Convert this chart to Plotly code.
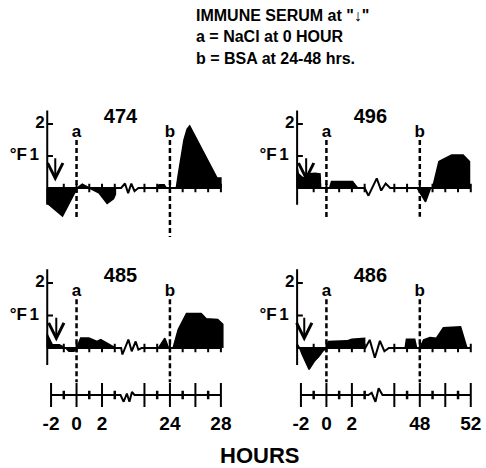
import plotly.graph_objects as go

W, H = 486, 468

# ---------------- data ----------------
# Hour axis is broken: left column shows -2..3 h and 22..28 h,
# right column shows -2..3 h and 46..52 h.
LEFT_CUT = 16.67     # hours hidden by the break, left column
RIGHT_CUT = 40.67    # hours hidden by the break, right column

# fever response (deg F) of each animal, before and after the axis break
p474_pre_h = [-2.3, -2.3, -1.1, 0.05, 0.45, 0.8, 1.0, 1.75, 2.4, 2.9, 3.05, 3.05, 3.5]
p474_pre_f = [0, -0.47, -0.88, 0, 0.12, 0.03, 0, -0.15, -0.48, -0.34, -0.2, 0, 0]
p474_post_h = [21.6, 23.0, 23.15, 23.55, 23.7, 24.5, 24.65, 24.85, 25.1, 25.35, 25.55, 27.7, 28.0, 28.0]
p474_post_f = [0, 0, 0.1, 0.1, 0, 0, 0.4, 0.94, 1.5, 1.84, 1.94, 0.31, 0.31, 0]
p474_brk_h = [3.5, 3.8, 4.05, 4.3, 4.55, 4.85]
p474_brk_f = [0, 0.14, -0.16, 0.14, -0.1, 0]

p496_pre_h = [-2.3, -2.3, -2.2, -1.8, -1.55, -0.9, -0.5, -0.45, 0.25, 0.4, 2.05, 2.45, 3.0]
p496_pre_f = [0, 0.65, 0.44, 0.3, 0.44, 0.46, 0.44, 0, 0, 0.2, 0.2, 0, 0]
p496_post_h = [45.7, 47.8, 48.45, 48.85, 49.0, 49.5, 50.5, 51.4, 51.9, 51.9]
p496_post_f = [0, 0, -0.43, 0, 0, 0.83, 1.03, 1.03, 0.83, 0]
p496_brk_h = [3.0, 3.3, 3.95, 4.3, 4.65, 5.0]
p496_brk_f = [0, -0.24, 0.3, -0.08, 0.14, 0]

p485_pre_h = [-2.3, -2.3, -2.1, -1.9, -1.35, -0.85, -0.6, -0.2, 0, 0.33, 0.97, 1.6, 1.9, 2.5, 3.05, 3.5]
p485_pre_f = [0, 0.42, 0.26, 0.1, 0.1, 0, -0.1, -0.1, 0, 0.31, 0.31, 0.2, 0.26, 0.13, 0, 0]
p485_post_h = [21.8, 23.1, 23.6, 23.9, 24.25, 24.65, 25.3, 26.45, 26.85, 27.75, 28.15, 28.15]
p485_post_f = [0, 0, 0.3, 0, 0, 0.57, 1.06, 1.06, 0.9, 0.88, 0.73, 0]
p485_brk_h = [3.5, 3.6, 4.07, 4.33, 4.64, 4.85, 5.1]
p485_brk_f = [0, -0.2, 0.26, -0.1, 0.2, -0.05, 0]

p486_pre_h = [-2.3, -2.3, -2.1, -1.9, -1.36, -0.95, -0.6, -0.3, 0, 0.15, 1.6, 2.0, 3.0, 3.0]
p486_pre_f = [0, 0.12, 0, -0.2, -0.66, -0.41, -0.26, -0.1, 0, 0.2, 0.22, 0.27, 0.3, 0]
p486_post_h = [45.7, 46.85, 46.95, 47.6, 47.75, 48.0, 48.3, 48.8, 49.3, 49.85, 51.2, 51.7, 52.0]
p486_post_f = [0, 0, 0.27, 0.27, 0, 0, 0.25, 0.32, 0.3, 0.62, 0.65, 0, 0]
p486_brk_h = [3.05, 3.4, 3.8, 4.2, 4.55, 4.9]
p486_brk_f = [0, 0.25, -0.3, 0.22, -0.1, 0]

# injection times
serum_h = {"474": -1.67, "496": -1.59, "485": -1.59, "486": -1.74}
nacl_h = 0
bsa_h = {"left": 24, "right": 48}

# temperature-axis ticks
f_ticks = [1, 2]

# hour-axis ticks
left_major = [-2, 0, 2, 22, 24, 26, 28]
left_minor = [-1, 1, 3, 23, 25, 27]
left_labels = {-2: "-2", 0: "0", 2: "2", 24: "24", 28: "28"}
right_major = [-2, 0, 2, 46, 48, 50, 52]
right_minor = [-1, 1, 3, 47, 49, 51]
right_labels = {-2: "-2", 0: "0", 2: "2", 48: "48", 52: "52"}
left_axbrk_h = [3.45, 3.7, 3.95, 4.15, 4.35, 4.55]
left_axbrk_v = [0, -0.45, 0.1, -0.45, 0.2, 0]
right_axbrk_h = [3.3, 3.55, 3.85, 4.1, 4.4]
right_axbrk_v = [0, 0.15, -0.45, 0.45, 0]

FONT = "Liberation Sans"
INK = "black"

# ---------------- geometry ----------------
COLS = {"left": dict(origin=77.5, cut=LEFT_CUT, end=28),
        "right": dict(origin=330.5, cut=RIGHT_CUT, end=52)}
UPX = 12.9                 # px per hour
XR = [-4.5, 11.7]
ROWS = {0: dict(base=188, scale=32.0), 1: dict(base=348, scale=32.5)}
YR = [-1.7, 2.6]


def disp(h, cut):
    return [v if v < 10 else v - cut for v in h] if isinstance(h, list) else (h if h < 10 else h - cut)


def xdom(col):
    o = COLS[col]["origin"]
    return [(o + XR[0] * UPX) / W, (o + XR[1] * UPX) / W]


def ydom(row):
    b, s = ROWS[row]["base"], ROWS[row]["scale"]
    top = b - YR[1] * s
    bot = b - YR[0] * s
    return [1 - bot / H, 1 - top / H]


fig = go.Figure()
layout = dict(width=W, height=H, margin=dict(l=0, r=0, t=0, b=0),
              paper_bgcolor="white", plot_bgcolor="rgba(0,0,0,0)",
              showlegend=False, annotations=[])
ann = layout["annotations"]


def hidden_axis(**kw):
    d = dict(showgrid=False, zeroline=False, showline=False, showticklabels=False,
             ticks="", fixedrange=True)
    d.update(kw)
    return d


panels = [
    ("474", "left", 0, (p474_pre_h, p474_pre_f), (p474_post_h, p474_post_f), (p474_brk_h, p474_brk_f), (-1.0, -1.53)),
    ("496", "right", 0, (p496_pre_h, p496_pre_f), (p496_post_h, p496_post_f), (p496_brk_h, p496_brk_f), (-1.0, -0.9)),
    ("485", "left", 1, (p485_pre_h, p485_pre_f), (p485_post_h, p485_post_f), (p485_brk_h, p485_brk_f), (-1.05, -1.05)),
    ("486", "right", 1, (p486_pre_h, p486_pre_f), (p486_post_h, p486_post_f), (p486_brk_h, p486_brk_f), (-1.05, -1.05)),
]

YAX = -2.3   # position of the temperature axis (hours)
BOLD = dict(family=FONT, color=INK, weight="bold")


def seg(xs, ys, xr, yr, width=2, dash=None):
    fig.add_trace(go.Scatter(x=xs, y=ys, mode="lines",
                             line=dict(color=INK, width=width, dash=dash),
                             xaxis=xr, yaxis=yr, hoverinfo="skip"))


def txt(x, y, s, xr, yr, size, pos):
    fig.add_trace(go.Scatter(x=[x], y=[y], mode="text", text=[s], textposition=pos,
                             textfont=dict(BOLD, size=size), cliponaxis=False,
                             xaxis=xr, yaxis=yr, hoverinfo="skip"))


for i, (name, col, row, pre, post, brk, dash_bottom) in enumerate(panels):
    k = "" if i == 0 else str(i + 1)
    xr, yr = "x" + k, "y" + k
    cut = COLS[col]["cut"]
    endh = COLS[col]["end"]
    layout["xaxis" + k] = hidden_axis(domain=xdom(col), range=XR, anchor=yr)
    layout["yaxis" + k] = hidden_axis(domain=ydom(row), range=YR, anchor=xr)

    # filled response curves
    for hs, fs in (pre, post):
        fig.add_trace(go.Scatter(x=disp(hs, cut), y=fs, mode="lines", fill="tozeroy",
                                 fillcolor=INK, line=dict(color=INK, width=1.5),
                                 xaxis=xr, yaxis=yr, hoverinfo="skip"))
    # baseline with break zig-zag
    seg([YAX] + disp(brk[0], cut) + [disp(endh, cut)], [0] + brk[1] + [0], xr, yr)
    # baseline hour ticks
    minor = (left_major + left_minor) if col == "left" else (right_major + right_minor)
    minor = [h for h in minor if h > -2]
    fig.add_trace(go.Scatter(x=disp(minor, cut), y=[0] * len(minor), mode="markers",
                             marker=dict(symbol="line-ns", size=6, line=dict(width=2, color=INK)),
                             xaxis=xr, yaxis=yr, hoverinfo="skip"))
    # temperature axis with ticks at 1 and 2
    seg([YAX, YAX], [-0.52, 2.42], xr, yr)
    for t in f_ticks:
        seg([YAX, YAX + 0.45], [t, t], xr, yr)
    txt(YAX - 0.2, f_ticks[1], "2", xr, yr, 17, "middle left")
    txt(YAX - 0.65, f_ticks[0], "1", xr, yr, 17, "middle left")
    txt(YAX - 1.6, f_ticks[0], "°F", xr, yr, 17, "middle left")
    # dashed event lines a (NaCl) and b (BSA)
    bx_ = disp(bsa_h[col], cut)
    seg([nacl_h, nacl_h], [1.5, dash_bottom[0]], xr, yr, 2.5, "5px,3px")
    seg([bx_, bx_], [1.5, dash_bottom[1]], xr, yr, 2.5, "5px,3px")
    txt(nacl_h, 1.72, "a", xr, yr, 17, "middle center")
    txt(bx_, 1.72, "b", xr, yr, 17, "middle center")
    txt(3.45, 2.18, name, xr, yr, 20, "middle center")
    # serum arrow
    sh = serum_h[name]
    ann.append(dict(xref=xr, yref=yr, axref=xr, ayref=yr, x=sh, y=0.2, ax=sh, ay=0.98,
                    showarrow=True, arrowhead=5, arrowsize=1.5, arrowwidth=2, arrowcolor=INK,
                    standoff=0, startstandoff=0, text=""))

# bottom hour axes
for j, (col, major, minor, labels, abh, abv) in enumerate([
        ("left", left_major, left_minor, left_labels, left_axbrk_h, left_axbrk_v),
        ("right", right_major, right_minor, right_labels, right_axbrk_h, right_axbrk_v)]):
    k = str(5 + j)
    xr, yr = "x" + k, "y" + k
    cut = COLS[col]["cut"]
    endh = COLS[col]["end"]
    lv = list(labels.keys())
    layout["xaxis" + k] = hidden_axis(domain=xdom(col), range=XR, anchor=yr,
                                      showticklabels=True, tickmode="array",
                                      tickvals=disp(lv, cut), ticktext=list(labels.values()),
                                      tickfont=dict(BOLD, size=19))
    layout["yaxis" + k] = hidden_axis(domain=[1 - 410 / H, 1 - 380 / H], range=[-1, 1], anchor=xr)
    seg([-2] + disp(abh, cut) + [disp(endh, cut)], [0] + abv + [0], xr, yr)
    fig.add_trace(go.Scatter(x=disp(major, cut), y=[0] * len(major), mode="markers",
                             marker=dict(symbol="line-ns", size=17, line=dict(width=2, color=INK)),
                             xaxis=xr, yaxis=yr, hoverinfo="skip"))
    fig.add_trace(go.Scatter(x=disp(minor, cut), y=[0] * len(minor), mode="markers",
                             marker=dict(symbol="line-ns", size=6, line=dict(width=2.5, color=INK)),
                             xaxis=xr, yaxis=yr, hoverinfo="skip"))

hdr = dict(xref="paper", yref="paper", showarrow=False, xanchor="left", yanchor="middle",
           font=dict(BOLD, size=16))
ann.append(dict(hdr, x=196 / W, y=1 - 16 / H, text='IMMUNE SERUM at "↓"'))
ann.append(dict(hdr, x=196 / W, y=1 - 37 / H, text="a = NaCl at 0 HOUR"))
ann.append(dict(hdr, x=196 / W, y=1 - 58 / H, text="b = BSA at 24-48 hrs."))
ann.append(dict(xref="paper", yref="paper", showarrow=False, x=263 / W, y=1 - 455 / H,
                xanchor="center", yanchor="middle",
                text="HOURS", font=dict(BOLD, size=22)))

fig.update_layout(**layout)
fig.write_html("out.html", config={"displayModeBar": False},
               post_script="document.body.style.margin='0';")
